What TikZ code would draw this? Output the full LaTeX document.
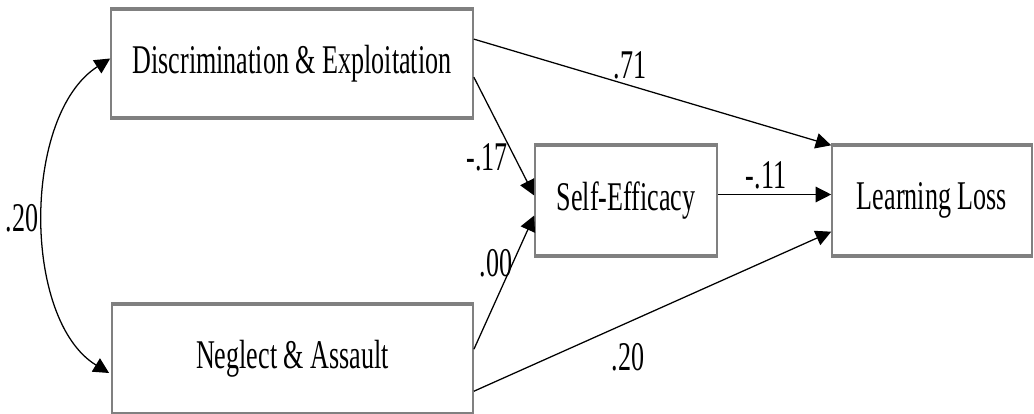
\documentclass[tikz,border=0pt]{standalone}
\usepackage{fontspec}
\setmainfont{Liberation Serif}
\usepackage{graphicx}
\usetikzlibrary{arrows.meta, calc}
\definecolor{boxgray}{RGB}{128,128,128}
\newcommand{\narrowtxt}[1]{\scalebox{0.64}[1]{#1}}
\tikzset{
  varbox/.style={rectangle, draw=boxgray, line width=1.1pt, fill=white,
    inner sep=0pt, font=\fontsize{29}{34}\selectfont},
  boxrim/.style={draw=boxgray, line width=2.8pt},
  patharrow/.style={-{Triangle[length=11pt,width=11pt]}, line width=0.9pt, color=black},
  coef/.style={font=\fontsize{29}{34}\selectfont, inner sep=0pt}
}

\begin{document}
\begin{tikzpicture}[x=0.025cm, y=-0.025cm]
  \useasboundingbox (0,0) rectangle (1034,414);

  % Variables
  \node[varbox, minimum width=9.05cm, minimum height=2.68cm] (discr) at (292,63.5) {\narrowtxt{Discrimination \& Exploitation}};
  \node[varbox, minimum width=9.03cm, minimum height=2.7cm] (negl) at (292.5,359) {\narrowtxt{Neglect \& Assault}};
  \node[varbox, minimum width=4.55cm, minimum height=2.72cm] (selfeff) at (626,200.5) {\narrowtxt{Self-Efficacy}};
  \node[varbox, minimum width=5.0cm, minimum height=2.72cm] (loss) at (932,200.5) {\narrowtxt{Learning Loss}};

  % Thick top and bottom rims
  \foreach \b in {discr, negl, selfeff, loss} {
    \draw[boxrim] (\b.north west) -- (\b.north east);
    \draw[boxrim] (\b.south west) -- (\b.south east);
  }

  % Paths
  \draw[patharrow] ($(discr.north east)+(0,30)$) -- (loss.north west);
  \draw[patharrow] ($(discr.north east)+(0,68)$) -- ($(selfeff.west)+(0,-5)$);
  \draw[patharrow] ($(negl.north east)+(0,45)$) -- ($(selfeff.west)+(0,15)$);
  \draw[patharrow] ($(selfeff.east)+(0,-6)$) -- ($(loss.west)+(0,-6)$);
  \draw[patharrow] ($(negl.north east)+(0,87)$) -- ($(loss.south west)+(0,-24)$);

  % Covariance
  \draw[patharrow, {Triangle[length=11pt,width=11pt]}-{Triangle[length=11pt,width=11pt]}]
    ($(discr.west)+(0,-5)$) .. controls (22,115) and (22,320) .. ($(negl.west)+(-2,14)$);

  % Coefficients
  \node[coef] (c71) at (630,65) {\narrowtxt{.71}};
  \node[coef] (c17) at (487,157) {\narrowtxt{-.17}};
  \node[coef] (c00) at (496,263) {\narrowtxt{.00}};
  \node[coef] (c11) at (766,175) {\narrowtxt{-.11}};
  \node[coef] (c20b) at (628,357) {\narrowtxt{.20}};
  \node[coef] (c20a) at (22,218) {\narrowtxt{.20}};
\end{tikzpicture}
\end{document}
